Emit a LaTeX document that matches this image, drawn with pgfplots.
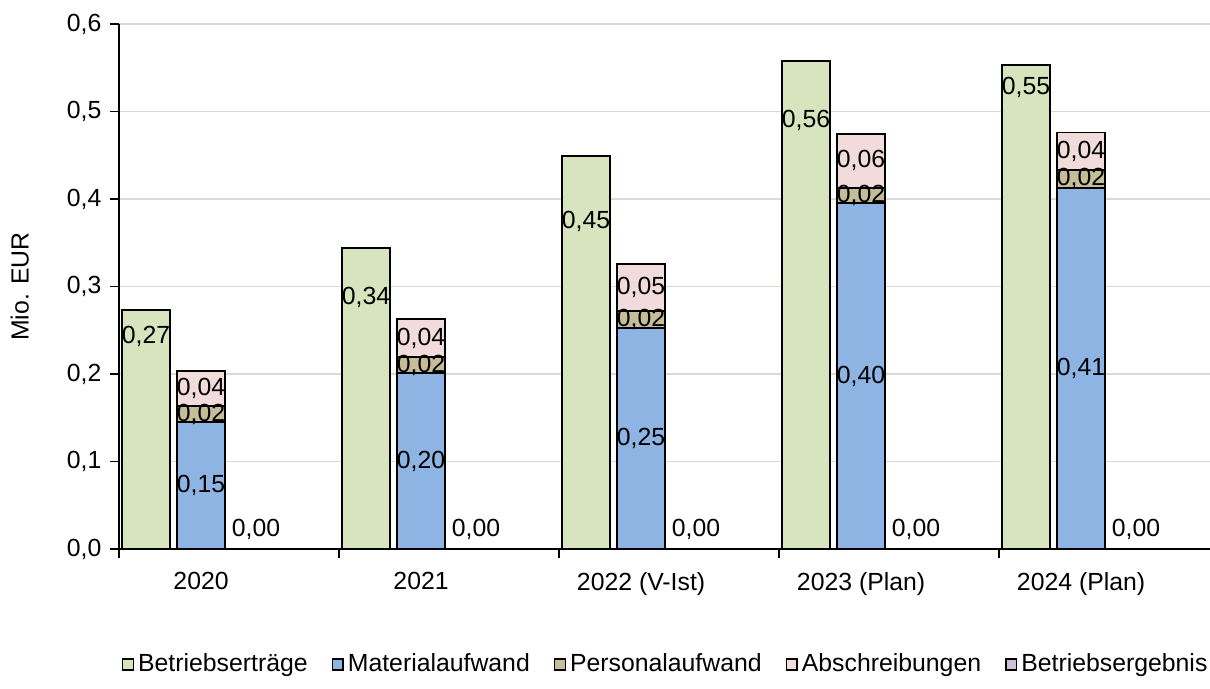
\documentclass[border=0pt]{standalone}
\usepackage{fontspec}
\setmainfont{Liberation Sans}
\usepackage{pgfplots}
\pgfplotsset{compat=1.18}
\definecolor{cGreen}{HTML}{D7E4BD}
\definecolor{cBlue}{HTML}{8EB4E3}
\definecolor{cOlive}{HTML}{C4BD97}
\definecolor{cPink}{HTML}{F2DCDB}
\definecolor{cPurple}{HTML}{CCC1DA}
\definecolor{cGrid}{HTML}{D9D9D9}
\begin{document}
\fontsize{12.4}{14.8}\selectfont
\begin{tikzpicture}
\begin{axis}[
  at={(0,0)}, anchor=south west,
  scale only axis,
  width=545.5pt, height=262.5pt,
  xmin=-0.373, xmax=4.586,
  ymin=0, ymax=0.6,
  axis x line*=bottom, axis y line*=left,
  axis line style={line width=0.9pt, black},
  tick align=outside,
  major tick length=4.5pt,
  tick style={line width=0.9pt, black},
  ytick={0,0.1,0.2,0.3,0.4,0.5,0.6},
  ymajorgrids,
  grid style={line width=0.75pt, cGrid},
  yticklabel style={/pgf/number format/.cd, use comma, fixed, fixed zerofill, precision=1, assume math mode=true},
  xtick={-0.373,0.627,1.627,2.627,3.627},
  xticklabels={},
  extra x ticks={0,1,2,3,4},
  extra x tick labels={2020,2021,2022 (V-Ist),2023 (Plan),2024 (Plan)},
  extra x tick style={major tick length=0pt, grid=none, tick label style={yshift=-7.5pt}},
  ylabel={Mio. EUR},
  ylabel style={at={(axis description cs:-0.091,0.5)}, anchor=center},
  legend columns=5,
  legend style={draw=none, fill=none, at={(0.502,-0.22)}, anchor=center,
    /tikz/every even column/.append style={column sep=10pt},
    font=\fontsize{12.4}{14.8}\selectfont, inner sep=0pt},
  legend image code/.code={\draw[#1, line width=0.7pt] (0pt,-2.7pt) rectangle (5.4pt,2.7pt);},
]
% Betriebsertraege
\addplot[forget plot, ybar, bar shift=0pt, bar width=0.22, fill=cGreen, draw=black, line width=0.9pt]
  coordinates {(-0.25,0.273) (0.75,0.344) (1.75,0.449) (2.75,0.558) (3.75,0.553)};
% Abschreibungen (cumulative top)
\addplot[forget plot, ybar, bar shift=0pt, bar width=0.22, fill=cPink, draw=black, line width=0.9pt]
  coordinates {(0,0.203) (1,0.263) (2,0.326) (3,0.474) (4,0.476)};
% Personalaufwand (cumulative)
\addplot[forget plot, ybar, bar shift=0pt, bar width=0.22, fill=cOlive, draw=black, line width=0.9pt]
  coordinates {(0,0.163) (1,0.219) (2,0.272) (3,0.413) (4,0.433)};
% Materialaufwand
\addplot[forget plot, ybar, bar shift=0pt, bar width=0.22, fill=cBlue, draw=black, line width=0.9pt]
  coordinates {(0,0.145) (1,0.201) (2,0.253) (3,0.395) (4,0.413)};
% labels
\addplot[forget plot, draw=none, mark=none, nodes near coords, point meta=explicit symbolic,
  nodes near coords style={anchor=center, inner sep=0pt, font=\fontsize{12.4}{14.8}\selectfont}]
  table[x=x, y=y, meta=label] {
x y label
-0.25 0.243 0,27
0 0.0725 0,15
0 0.154 0,02
0 0.183 0,04
0.25 0.022 0,00
0.75 0.287 0,34
1 0.1005 0,20
1 0.210 0,02
1 0.241 0,04
1.25 0.022 0,00
1.75 0.374 0,45
2 0.1265 0,25
2 0.2625 0,02
2 0.299 0,05
2.25 0.022 0,00
2.75 0.490 0,56
3 0.1975 0,40
3 0.404 0,02
3 0.4435 0,06
3.25 0.022 0,00
3.75 0.527 0,55
4 0.2065 0,41
4 0.423 0,02
4 0.4545 0,04
4.25 0.022 0,00
};
\addlegendimage{fill=cGreen, draw=black}
\addlegendentry{Betriebserträge}
\addlegendimage{fill=cBlue, draw=black}
\addlegendentry{Materialaufwand}
\addlegendimage{fill=cOlive, draw=black}
\addlegendentry{Personalaufwand}
\addlegendimage{fill=cPink, draw=black}
\addlegendentry{Abschreibungen}
\addlegendimage{fill=cPurple, draw=black}
\addlegendentry{Betriebsergebnis}
\end{axis}
\pgfresetboundingbox
\path (-59.5pt,-70pt) rectangle (545.5pt,274.5pt);
\end{tikzpicture}
\end{document}
